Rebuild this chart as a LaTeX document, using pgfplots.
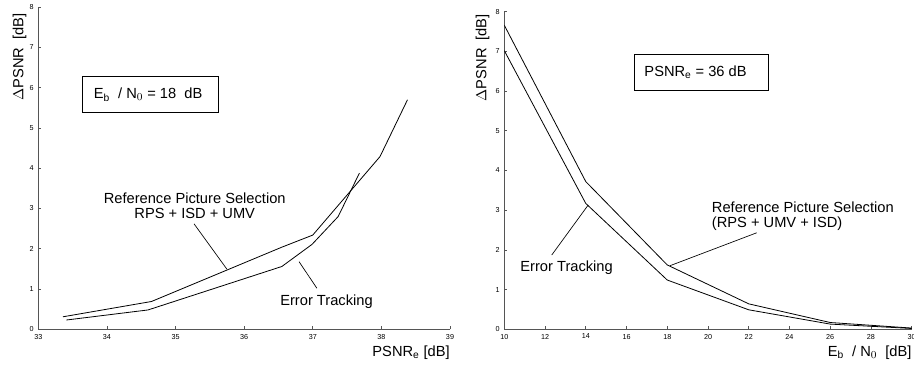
\documentclass[border=0pt]{standalone}
\usepackage{fontspec}
\setmainfont{Liberation Sans}
\usepackage{pgfplots}
\pgfplotsset{compat=1.18}
\definecolor{axgray}{HTML}{555555}
\pgfplotsset{
  myax/.style={
    scale only axis,
    axis x line=bottom, axis y line=left,
    axis line style={-, axgray, line width=0.7pt},
    tick style={axgray, line width=0.5pt},
    major tick length=2.2pt,
    tick align=inside,
    xtick pos=bottom, ytick pos=left,
    enlargelimits=false,
    ymin=0, ymax=8, ytick={0,1,...,8},
    /pgf/number format/assume math mode=true,
    tick label style={font=\fontsize{5.4}{6}\selectfont, text=black},
    label style={font=\fontsize{11}{12}\selectfont, inner sep=0pt},
    cycle list={{black, line width=0.6pt, mark=none},{black, line width=0.6pt, mark=none}},
  }
}
\begin{document}
\begin{tikzpicture}
% left panel
\begin{axis}[myax,
  at={(28.7pt,28.3pt)}, anchor=south west,
  width=308.8pt, height=241.5pt,
  xmin=33, xmax=39, xtick={33,...,39},
  xlabel={PSNR$_\mathrm{e}$ [dB]},
  ylabel={$\Delta$PSNR\ \ [dB]},
  xlabel style={at={(axis description cs:1,-0.085)}, anchor=base east},
  ylabel style={at={(axis description cs:-0.028,0.982)}, anchor=south east, rotate=0},
]
\addplot coordinates {(33.36,0.31) (34.65,0.69) (36.55,2.04) (37.0,2.34) (37.98,4.29) (38.38,5.70)};
\addplot coordinates {(33.41,0.23) (34.6,0.48) (36.55,1.56) (36.99,2.11) (37.37,2.80) (37.68,3.88)};
\draw[black, line width=0.6pt] (axis cs:33.65,5.38) rectangle (axis cs:35.62,6.29);
\node[font=\fontsize{11}{12}\selectfont, inner sep=0pt] at (axis cs:34.60,5.83) {E$_\mathrm{b}$\ \ / N$_0$ = 18\ \ dB};
\node[font=\fontsize{11}{11.5}\selectfont, align=center, inner sep=0pt] at (axis cs:35.28,3.07) {Reference Picture Selection\\RPS + ISD + UMV};
\draw[black, line width=0.5pt] (axis cs:35.27,2.62) -- (axis cs:35.75,1.49);
\node[font=\fontsize{11}{12}\selectfont, inner sep=0pt] at (axis cs:37.20,0.69) {Error Tracking};
\draw[black, line width=0.5pt] (axis cs:36.8,1.68) -- (axis cs:37.06,1.02);
\end{axis}
% right panel
\begin{axis}[myax,
  at={(378.2pt,28.3pt)}, anchor=south west,
  width=305.6pt, height=238.2pt,
  xmin=10, xmax=30, xtick={10,12,...,30},
  xlabel={E$_\mathrm{b}$\ \ / N$_0$\ \ [dB]},
  ylabel={$\Delta$PSNR\ \ [dB]},
  xlabel style={at={(axis description cs:1,-0.086)}, anchor=base east},
  ylabel style={at={(axis description cs:-0.036,0.993)}, anchor=south east, rotate=0},
]
\addplot coordinates {(10,7.66) (14,3.72) (18,1.62) (22,0.64) (26,0.17) (30,0.03)};
\addplot coordinates {(10,7.02) (14,3.17) (18,1.24) (22,0.49) (26,0.13) (30,0.02)};
\draw[black, line width=0.6pt] (axis cs:16.37,6.01) rectangle (axis cs:22.96,6.93);
\node[font=\fontsize{11}{12}\selectfont, inner sep=0pt] at (axis cs:19.39,6.47) {PSNR$_\mathrm{e}$ = 36 dB};
\node[font=\fontsize{11}{11.5}\selectfont, align=left, anchor=west, inner sep=0pt] at (axis cs:20.18,2.84) {Reference Picture Selection\\(RPS + UMV + ISD)};
\draw[black, line width=0.5pt] (axis cs:22.39,2.43) -- (axis cs:18.13,1.60);
\node[font=\fontsize{11}{12}\selectfont, inner sep=0pt] at (axis cs:13.06,1.54) {Error Tracking};
\draw[black, line width=0.5pt] (axis cs:12.33,1.87) -- (axis cs:14.12,3.13);
\end{axis}
\pgfresetboundingbox
\path[use as bounding box] (0,0) rectangle (685.5pt,275.25pt);
\end{tikzpicture}
\end{document}
